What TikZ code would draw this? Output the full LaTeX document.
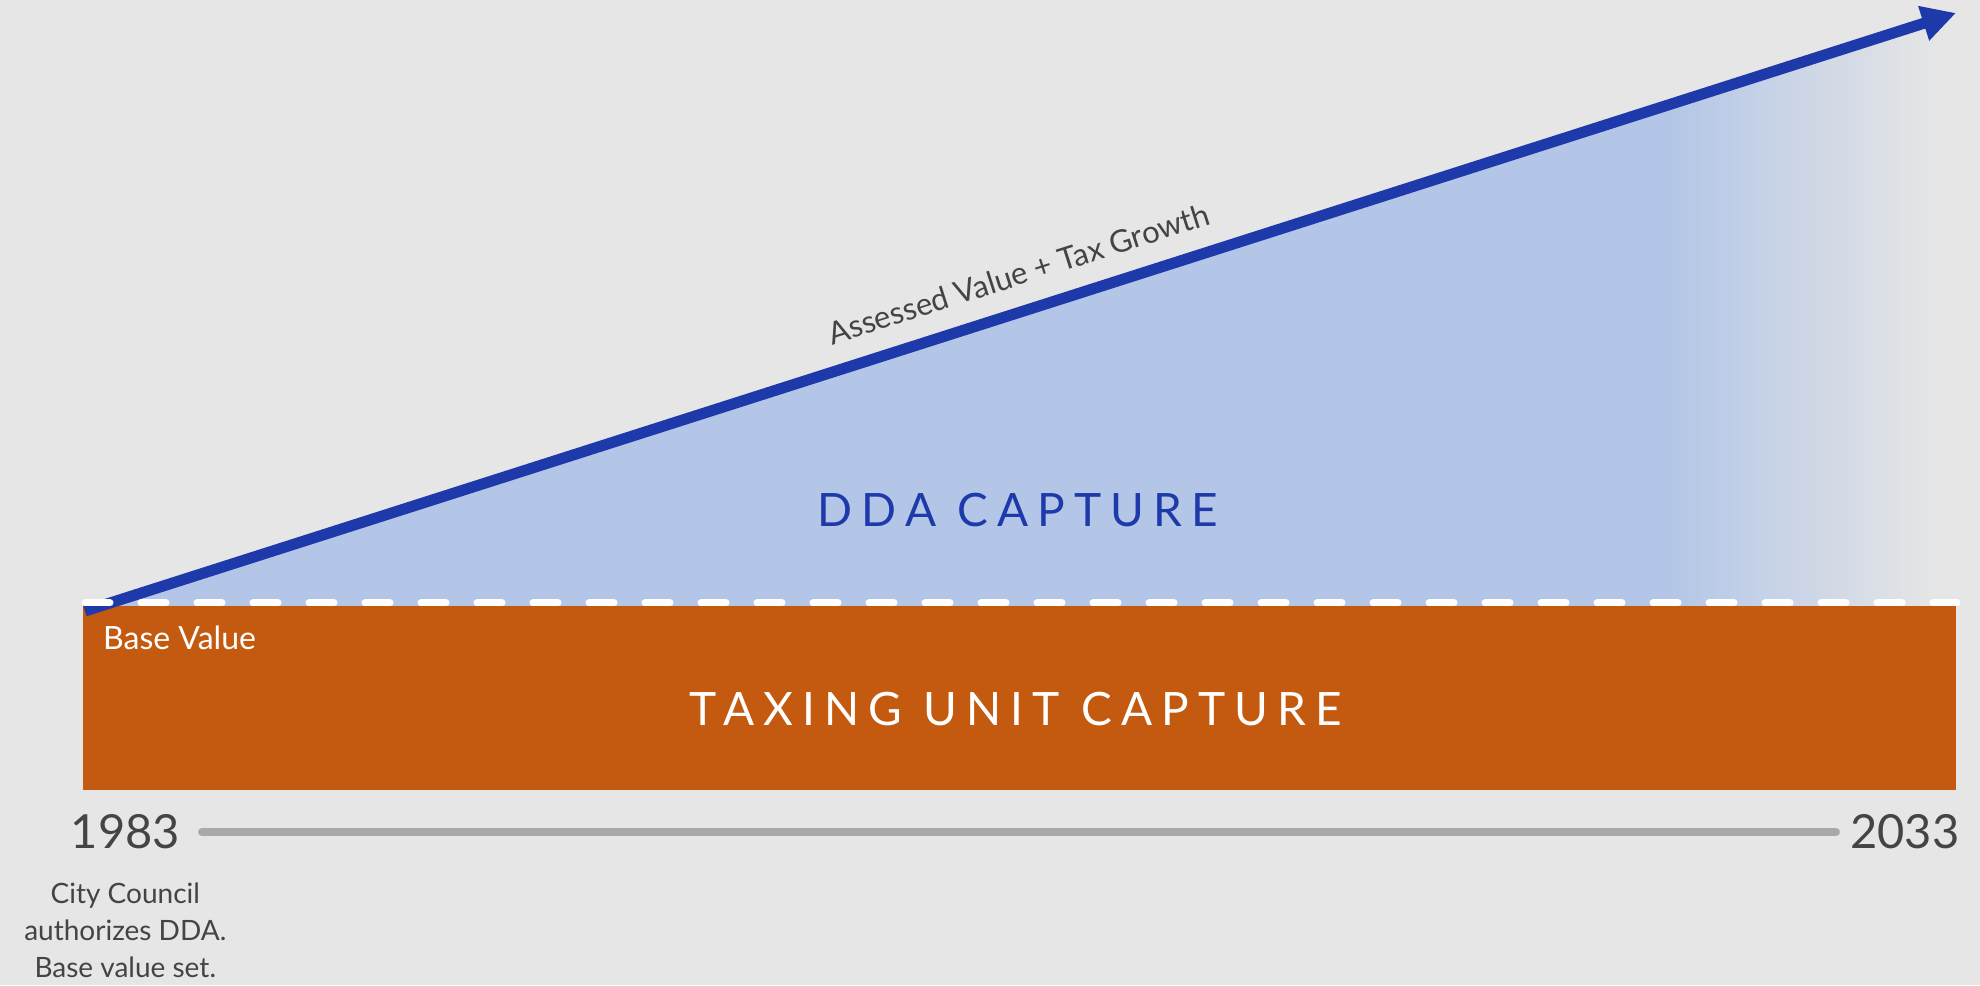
\documentclass[tikz,border=0pt]{standalone}
\usepackage{fontspec}
\setmainfont{Lato}
\newfontfamily\spacedfont[LetterSpace=20]{Lato}
\usetikzlibrary{positioning,arrows.meta,calc}

\definecolor{bggray}{HTML}{E6E6E6}
\definecolor{taxorange}{HTML}{C45A10}
\definecolor{capblue}{HTML}{B3C6E7}
\definecolor{ddablue}{HTML}{1E3AAA}
\definecolor{linegray}{HTML}{ABA9A8}
\definecolor{textgray}{HTML}{444444}

\begin{document}
\begin{tikzpicture}[
    x=1pt, y=1pt,
    growth/.style={-{Triangle[length=34pt,width=34pt]}, line width=11pt, draw=ddablue},
    basedash/.style={draw=white, line width=7pt, line cap=round, dash pattern=on 25pt off 31pt},
    timeline/.style={draw=linegray, line width=8pt, line cap=round},
    year/.style={inner sep=0pt, text=textgray, font=\fontsize{47pt}{52pt}\selectfont},
    capture/.style={inner sep=0pt, font=\spacedfont\fontsize{46pt}{50pt}\selectfont},
    note/.style={inner sep=0pt, text=textgray, align=center, font=\fontsize{28pt}{37pt}\selectfont}
]

% Background and frame
\fill[bggray] (0,0) rectangle (1980,985);
\useasboundingbox (0,0) rectangle (1980,985);

% Key points
\coordinate (origin) at (85,374);
\coordinate (tip) at (1956,972);
\coordinate (tstart) at (202,153);
\coordinate (tend) at (1836,153);

% DDA capture area, fading out on the right
\begin{scope}
  \clip (83,373) -- (tip) -- (1956,379) -- (83,379) -- cycle;
  \fill[capblue] (83,379) rectangle (1668,985);
  \shade[left color=capblue, right color=bggray] (1667,379) rectangle (1938,985);
\end{scope}

% Taxing unit block
\fill[taxorange] (83,195) rectangle (1956,379);

% Growth arrow and base line
\draw[growth] (origin) -- node[pos=0.505, sloped, above=20pt, inner sep=0pt, text=textgray, font=\fontsize{31pt}{35pt}\selectfont] (growthlbl) {Assessed Value + Tax Growth} (tip);
\draw[basedash] (85,382) -- (1957,382);

% Labels
\node[capture, text=ddablue] (ddalbl) at (1018,475) {DDA CAPTURE};
\node[capture, text=white] (taxlbl) at (1016,276) {TAXING UNIT CAPTURE};
\node[anchor=west, inner sep=0pt, text=white, font=\fontsize{32pt}{36pt}\selectfont] (baselbl) at (103,347) {Base Value};

% Timeline
\draw[timeline] (tstart) -- (tend);
\node[year, left=22pt of tstart] (y1983) {1983};
\node[year, right=14pt of tend] (y2033) {2033};
\node[note, below=33pt of y1983] (council) {City Council\\authorizes DDA.\\Base value set.};

\end{tikzpicture}
\end{document}
